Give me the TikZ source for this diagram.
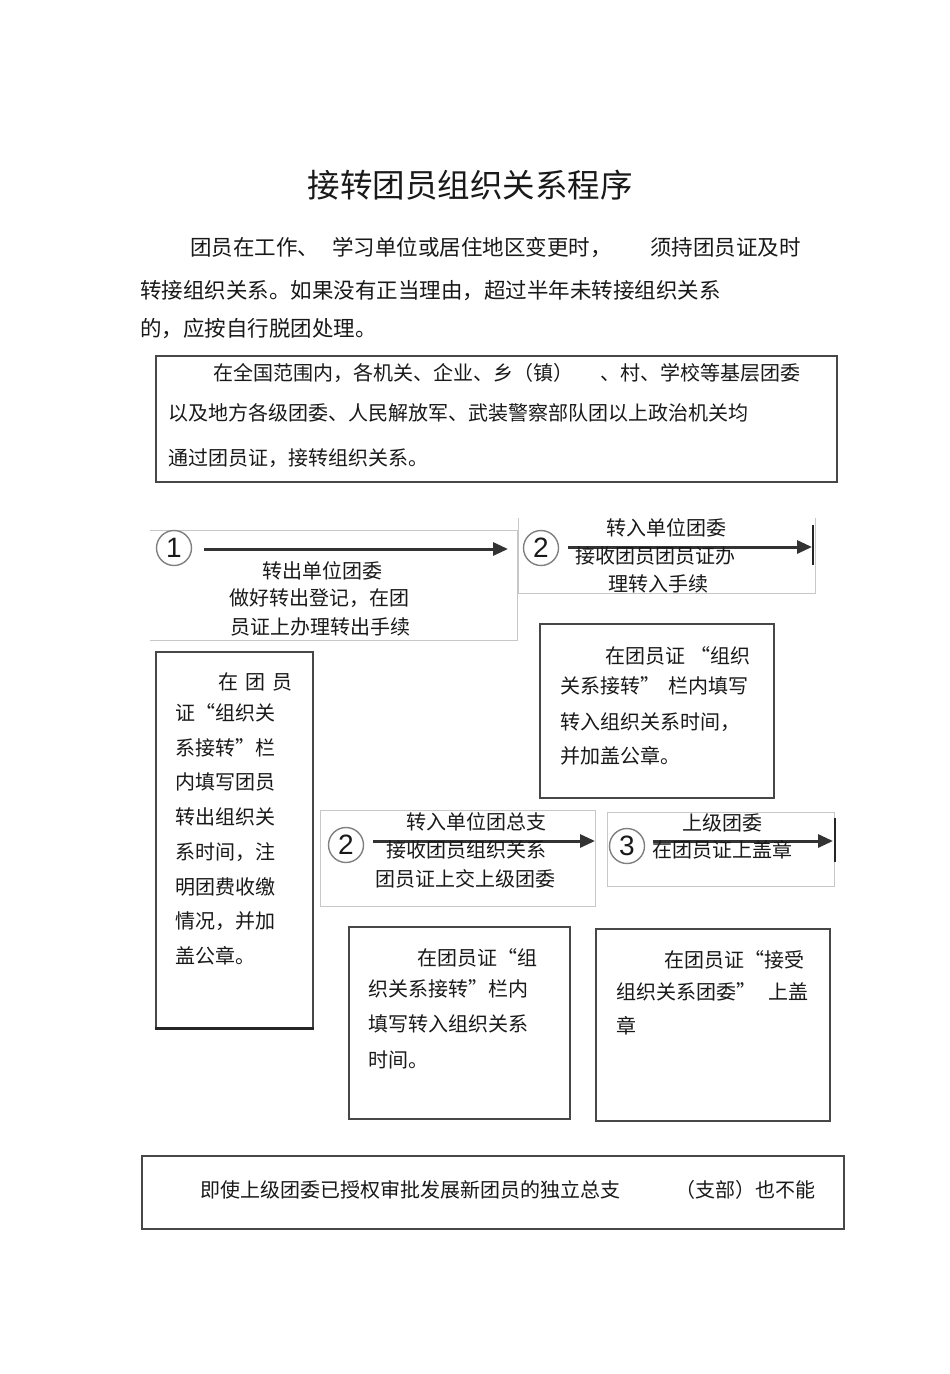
\documentclass[tikz,border=0pt]{standalone}
\usepackage{fontspec}
\setmainfont{Noto Sans CJK SC}
\newfontfamily\digitfont{Liberation Sans}
\usetikzlibrary{arrows.meta}
\tikzset{
  txt/.style={inner sep=0pt, anchor=west, text=black!90, font=\fontsize{20}{24}\selectfont, text height=17.6pt, text depth=2.4pt},
  ptxt/.style={txt, font=\fontsize{21.5}{26}\selectfont, text height=18.9pt, text depth=2.6pt},
  ctxt/.style={txt, anchor=center},
  darkbox/.style={draw=black!72, line width=1.8pt, anchor=north west, inner sep=0pt},
  lightbox/.style={draw=black!22, line width=1pt, anchor=north west, inner sep=0pt},
  lightline/.style={draw=black!22, line width=1pt},
  num/.style={circle, draw=black!50, line width=1.4pt, minimum size=35pt, inner sep=0pt, text=black!90, font=\digitfont\fontsize{28}{30}\selectfont},
  flow/.style={line width=3pt, draw=black!80, -{Triangle[length=15pt,width=13pt]}},
  endbar/.style={line width=2.8pt, draw=black!85}
}
\begin{document}
\begin{tikzpicture}[x=1pt,y=-1pt]
\useasboundingbox[fill=white] (0,0) rectangle (950,1374);

% title and paragraph
\node[ctxt, font=\fontsize{32.5}{36}\selectfont, text height=28.6pt, text depth=3.9pt] (title) at (470,185) {接转团员组织关系程序};
\node[ptxt] (p1a) at (190,247) {团员在工作、};
\node[ptxt] (p1b) at (332,247) {学习单位或居住地区变更时，};
\node[ptxt] (p1c) at (650,247) {须持团员证及时};
\node[ptxt] (p2) at (140,290) {转接组织关系。如果没有正当理由，超过半年未转接组织关系};
\node[ptxt] (p3) at (140,328) {的，应按自行脱团处理。};

% box A
\node[darkbox, minimum width=681pt, minimum height=126pt] (boxA) at (155,355) {};
\node[txt] (a1a) at (213,373) {在全国范围内，各机关、企业、乡（镇）};
\node[txt] (a1b) at (600,373) {、村、学校等基层团委};
\node[txt] (a2) at (168,413) {以及地方各级团委、人民解放军、武装警察部队团以上政治机关均};
\node[txt] (a3) at (168,458) {通过团员证，接转组织关系。};

% row 1 : step 1
\coordinate (b1tl) at (150,530);
\coordinate (b1tr) at (517,530);
\coordinate (b1br) at (517,640);
\coordinate (b1bl) at (150,640);
\draw[lightline] (b1tl) -- (b1tr) -- (b1br) -- (b1bl);
\node[num] (c1) at (174,548) {1};
\coordinate (a1e) at (508,549);
\draw[flow] ([xshift=12pt]c1.east |- a1e) -- (a1e);
\node[ctxt] (r1a) at (322,571) {转出单位团委};
\node[ctxt] (r1b) at (319,598) {做好转出登记，在团};
\node[ctxt] (r1c) at (320,627) {员证上办理转出手续};

% row 1 : step 2
\coordinate (b2tl) at (518,518);
\coordinate (b2bl) at (518,593);
\coordinate (b2br) at (815,593);
\coordinate (b2tr) at (815,518);
\draw[lightline] (b2tl) -- (b2bl) -- (b2br) -- (b2tr);
\node[num] (c2) at (541,548) {2};
\coordinate (a2e) at (812,547);
\coordinate (bar2t) at (813,525);
\coordinate (bar2b) at (813,565);
\draw[flow] ([xshift=9pt]c2.east |- a2e) -- (a2e);
\draw[endbar] (bar2t) -- (bar2b);
\node[ctxt] (r2a) at (666,528) {转入单位团委};
\node[ctxt] (r2b) at (655,556) {接收团员团员证办};
\node[ctxt] (r2c) at (658,584) {理转入手续};

% box C
\node[darkbox, minimum width=234pt, minimum height=174pt] (boxC) at (539,623) {};
\node[txt] (cl1) at (605,656) {在团员证\hspace{5pt}“组织};
\node[txt] (cl2) at (560,686) {关系接转”\hspace{8pt}栏内填写};
\node[txt] (cl3) at (560,722) {转入组织关系时间，};
\node[txt] (cl4) at (560,756) {并加盖公章。};

% left tall box
\node[darkbox, minimum width=157pt, minimum height=376pt] (boxL) at (155,651) {};
\draw[line width=3pt, draw=black!85] (boxL.south west) -- (boxL.south east);
\node[txt] (l1) at (218,682) {在\hspace{7pt}团\hspace{7pt}员};
\node[txt] (l2) at (175,713) {证“组织关};
\node[txt] (l3) at (175,748) {系接转”栏};
\node[txt] (l4) at (175,782) {内填写团员};
\node[txt] (l5) at (175,817) {转出组织关};
\node[txt] (l6) at (175,852) {系时间，注};
\node[txt] (l7) at (175,887) {明团费收缴};
\node[txt] (l8) at (175,921) {情况，并加};
\node[txt] (l9) at (175,956) {盖公章。};

% row 2 : box D
\node[lightbox, minimum width=275pt, minimum height=96pt] (boxD) at (320,810) {};
\node[num] (c3) at (346,845) {2};
\coordinate (a3e) at (595,841);
\draw[flow] ([xshift=9pt]c3.east |- a3e) -- (a3e);
\node[ctxt] (d1) at (476,822) {转入单位团总支};
\node[ctxt] (d2) at (466,850) {接收团员组织关系};
\node[ctxt] (d3) at (465,879) {团员证上交上级团委};

% row 2 : box E
\node[lightbox, minimum width=227pt, minimum height=74pt] (boxE) at (607,812) {};
\node[num] (c4) at (627,846) {3};
\coordinate (a4e) at (833,841);
\coordinate (bar4t) at (835,818);
\coordinate (bar4b) at (835,862);
\draw[flow] ([xshift=8pt]c4.east |- a4e) -- (a4e);
\draw[endbar] (bar4t) -- (bar4b);
\node[ctxt] (e1) at (722,823) {上级团委};
\node[ctxt] (e2) at (722,850) {在团员证上盖章};

% box F
\node[darkbox, minimum width=221pt, minimum height=192pt] (boxF) at (348,926) {};
\node[txt] (f1) at (417,958) {在团员证“组};
\node[txt] (f2) at (368,989) {织关系接转”栏内};
\node[txt] (f3) at (368,1024) {填写转入组织关系};
\node[txt] (f4) at (368,1060) {时间。};

% box G
\node[darkbox, minimum width=234pt, minimum height=192pt] (boxG) at (595,928) {};
\node[txt] (g1) at (664,960) {在团员证“接受};
\node[txt] (g2) at (616,992) {组织关系团委”\hspace{12pt}上盖};
\node[txt] (g3) at (616,1026) {章};

% box H
\node[darkbox, minimum width=702pt, minimum height=73pt] (boxH) at (141,1155) {};
\node[txt] (h1) at (200,1190) {即使上级团委已授权审批发展新团员的独立总支};
\node[txt] (h2) at (675,1190) {（支部）也不能};
\end{tikzpicture}
\end{document}
